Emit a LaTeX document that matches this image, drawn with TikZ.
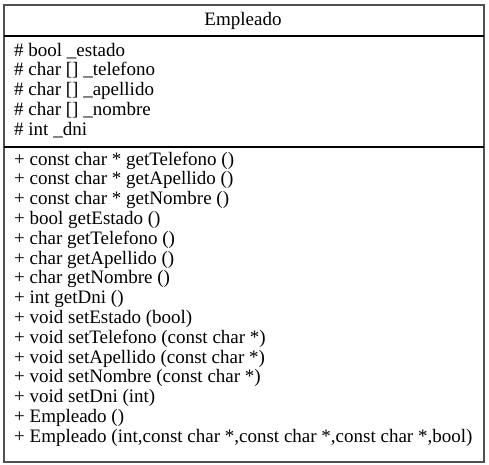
\documentclass[tikz,border=0pt]{standalone}
\usepackage{fontspec}
\setmainfont{Liberation Serif}
\begin{document}
\begin{tikzpicture}[x=1pt,y=-1pt,
  frame/.style={draw=black!68, line width=1.6pt},
  sep/.style={draw=black, line width=1.1pt},
  umltext/.style={font=\fontsize{19}{20}\selectfont, inner sep=0pt}]
\useasboundingbox (0,0) rectangle (489,464);
\fill[white] (0,0) rectangle (489,464);
% class box
\draw[frame] (4,5) rectangle (484,462);
\draw[sep] (4,36) -- (484,36);
\draw[sep] (4,147) -- (484,147);
% class name
\node[umltext, anchor=base] (title) at (243,25) {Empleado};
% attributes
\foreach \t [count=\i] in {
  {\# bool \_estado},
  {\# char [] \_telefono},
  {\# char [] \_apellido},
  {\# char [] \_nombre},
  {\# int \_dni}}
  \node[umltext, anchor=base west] (attr\i) at (14,{56+19.8*(\i-1)}) {\t};
% operations
\foreach \t [count=\i] in {
  {+ const char * getTelefono ()},
  {+ const char * getApellido ()},
  {+ const char * getNombre ()},
  {+ bool getEstado ()},
  {+ char getTelefono ()},
  {+ char getApellido ()},
  {+ char getNombre ()},
  {+ int getDni ()},
  {+ void setEstado (bool)},
  {+ void setTelefono (const char *)},
  {+ void setApellido (const char *)},
  {+ void setNombre (const char *)},
  {+ void setDni (int)},
  {+ Empleado ()},
  {+ Empleado (int,const char *,const char *,const char *,bool)}}
  \node[umltext, anchor=base west] (op\i) at (14,{165+19.8*(\i-1)}) {\t};
\end{tikzpicture}
\end{document}
